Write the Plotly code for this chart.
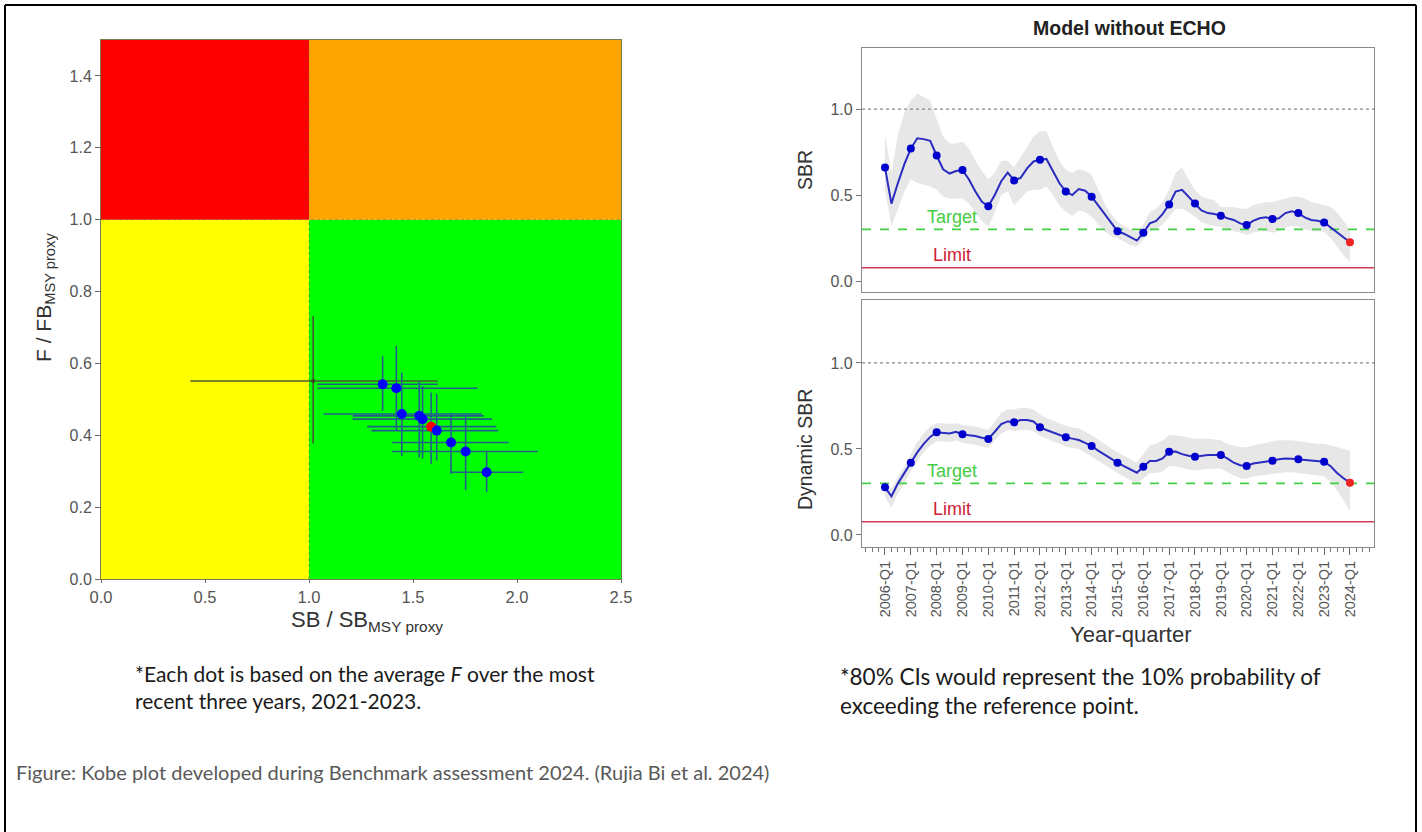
import plotly.graph_objects as go

W, H = 1422, 832

# ---------------- Kobe plot data ----------------
kobe_sb = [1.354, 1.42, 1.446, 1.53, 1.546, 1.587, 1.614, 1.683, 1.753, 1.854]
kobe_f = [0.542, 0.531, 0.459, 0.454, 0.445, 0.424, 0.413, 0.380, 0.355, 0.297]
kobe_sb_lo = [1.04, 1.04, 1.07, 1.21, 1.21, 1.28, 1.30, 1.40, 1.40, 1.68]
kobe_sb_hi = [1.62, 1.81, 1.83, 1.84, 1.88, 1.90, 1.91, 1.96, 2.10, 2.03]
kobe_f_lo = [0.468, 0.413, 0.343, 0.339, 0.335, 0.321, 0.330, 0.293, 0.247, 0.242]
kobe_f_hi = [0.620, 0.648, 0.574, 0.551, 0.537, 0.519, 0.515, 0.463, 0.460, 0.353]
kobe_colors = ["blue", "blue", "blue", "blue", "blue", "red", "blue", "blue", "blue", "blue"]

ref_sb, ref_f = [1.02], [0.551]
ref_sb_lo, ref_sb_hi = [0.43], [1.62]
ref_f_lo, ref_f_hi = [0.377], [0.731]

kobe_xticks = [0.0, 0.5, 1.0, 1.5, 2.0, 2.5]
kobe_yticks = [0.0, 0.2, 0.4, 0.6, 0.8, 1.0, 1.2, 1.4]

# ---------------- Time series data (quarterly 2006-Q1 .. 2024-Q1) ----------------
years = list(range(2006, 2025))
quarter_labels = [f"{y}-Q{q}" for y in years for q in (1, 2, 3, 4)][:73]

sbr = [0.66, 0.45, 0.57, 0.68,
       0.77, 0.83, 0.825, 0.815,
       0.73, 0.65, 0.625, 0.64,
       0.645, 0.59, 0.52, 0.46,
       0.435, 0.50, 0.58, 0.63,
       0.585, 0.60, 0.655, 0.695,
       0.705, 0.71, 0.64, 0.57,
       0.52, 0.50, 0.535, 0.525,
       0.49, 0.44, 0.39, 0.34,
       0.29, 0.275, 0.255, 0.235,
       0.28, 0.335, 0.35, 0.39,
       0.445, 0.52, 0.53, 0.49,
       0.45, 0.41, 0.395, 0.39,
       0.38, 0.365, 0.355, 0.335,
       0.325, 0.35, 0.365, 0.37,
       0.36, 0.365, 0.395, 0.405,
       0.395, 0.37, 0.355, 0.35,
       0.34, 0.31, 0.28, 0.25,
       0.225]
sbr_hi = [0.85, 0.63, 0.85, 0.98,
          1.05, 1.09, 1.07, 1.05,
          0.94, 0.84, 0.80, 0.80,
          0.81, 0.77, 0.70, 0.64,
          0.59, 0.63, 0.70, 0.70,
          0.66, 0.72, 0.78, 0.84,
          0.87, 0.87, 0.78, 0.70,
          0.645, 0.63, 0.65, 0.64,
          0.616, 0.53, 0.45, 0.39,
          0.345, 0.32, 0.30, 0.287,
          0.33, 0.40, 0.42, 0.46,
          0.53, 0.63, 0.66, 0.59,
          0.53, 0.49, 0.48, 0.47,
          0.43, 0.43, 0.43, 0.42,
          0.42, 0.44, 0.45, 0.46,
          0.46, 0.47, 0.48, 0.49,
          0.49, 0.48, 0.46, 0.45,
          0.44, 0.43, 0.40, 0.35,
          0.30]
sbr_lo = [0.53, 0.32, 0.42, 0.52,
          0.59, 0.57, 0.56, 0.55,
          0.53, 0.49, 0.48, 0.48,
          0.48, 0.45, 0.40, 0.35,
          0.316, 0.40, 0.50, 0.52,
          0.44, 0.48, 0.52, 0.53,
          0.53, 0.55, 0.50, 0.44,
          0.403, 0.38, 0.41, 0.40,
          0.374, 0.33, 0.29, 0.26,
          0.248, 0.23, 0.21, 0.20,
          0.24, 0.29, 0.30, 0.33,
          0.374, 0.42, 0.42, 0.40,
          0.374, 0.34, 0.33, 0.32,
          0.316, 0.30, 0.29, 0.28,
          0.267, 0.28, 0.29, 0.29,
          0.28, 0.29, 0.31, 0.32,
          0.32, 0.30, 0.29, 0.29,
          0.287, 0.25, 0.20, 0.15,
          0.11]

dsbr = [0.277, 0.225, 0.30, 0.36,
        0.42, 0.48, 0.53, 0.57,
        0.597, 0.595, 0.59, 0.60,
        0.585, 0.58, 0.575, 0.565,
        0.558, 0.60, 0.645, 0.66,
        0.655, 0.668, 0.668, 0.66,
        0.626, 0.61, 0.595, 0.58,
        0.568, 0.56, 0.552, 0.535,
        0.517, 0.49, 0.465, 0.44,
        0.42, 0.40, 0.38, 0.362,
        0.397, 0.43, 0.43, 0.445,
        0.484, 0.485, 0.47, 0.46,
        0.455, 0.46, 0.465, 0.465,
        0.465, 0.445, 0.42, 0.405,
        0.401, 0.415, 0.42, 0.425,
        0.432, 0.44, 0.445, 0.443,
        0.44, 0.435, 0.43, 0.428,
        0.426, 0.40, 0.36, 0.33,
        0.304]
dsbr_hi = [0.31, 0.27, 0.34, 0.40,
           0.47, 0.54, 0.59, 0.63,
           0.65, 0.65, 0.645, 0.65,
           0.64, 0.635, 0.63, 0.62,
           0.61, 0.66, 0.71, 0.73,
           0.73, 0.74, 0.74, 0.73,
           0.70, 0.68, 0.665, 0.65,
           0.635, 0.625, 0.62, 0.60,
           0.58, 0.555, 0.53, 0.50,
           0.48, 0.46, 0.44, 0.42,
           0.47, 0.52, 0.53, 0.55,
           0.58, 0.58, 0.575, 0.565,
           0.56, 0.56, 0.56, 0.555,
           0.55, 0.53, 0.52, 0.51,
           0.51, 0.52, 0.53, 0.535,
           0.545, 0.55, 0.55, 0.55,
           0.545, 0.54, 0.535, 0.53,
           0.53, 0.52, 0.51, 0.50,
           0.49]
dsbr_lo = [0.22, 0.16, 0.24, 0.30,
           0.37, 0.43, 0.48, 0.52,
           0.545, 0.545, 0.54, 0.55,
           0.535, 0.53, 0.525, 0.515,
           0.505, 0.55, 0.59, 0.61,
           0.605, 0.61, 0.61, 0.605,
           0.575, 0.56, 0.545, 0.53,
           0.515, 0.505, 0.50, 0.48,
           0.46, 0.435, 0.41, 0.385,
           0.36, 0.34, 0.32, 0.30,
           0.33, 0.36, 0.36, 0.37,
           0.40, 0.40, 0.39, 0.38,
           0.375, 0.38, 0.385, 0.385,
           0.385, 0.365, 0.345, 0.33,
           0.325, 0.34, 0.345, 0.35,
           0.355, 0.36, 0.365, 0.365,
           0.36, 0.355, 0.35, 0.345,
           0.34, 0.31, 0.26, 0.20,
           0.14]

target_level = 0.30
limit_level = 0.077
unfished_level = 1.0

# ---------------- helpers ----------------
def qnum(label):
    y, q = label.split("-Q")
    return int(y) + (int(q) - 1) / 4.0

tq = [qnum(l) for l in quarter_labels]
q1_idx = [i for i, l in enumerate(quarter_labels) if l.endswith("Q1")]

def pxx(x):
    return x / W

def pxy(y):
    return 1 - y / H

FONT = "Liberation Sans, Arial, sans-serif"
NOTE_FONT = "Lato, Open Sans, sans-serif"
XR = [2005.11, 2024.93]

fig = go.Figure()

# Kobe quadrants
quads = [
    (0, 0, 1, 1, "#ffff00"),
    (1, 0, 2.5, 1, "#00ff00"),
    (0, 1, 1, 1.5, "#ff0000"),
    (1, 1, 2.5, 1.5, "#ffa500"),
]
for x0, y0, x1, y1, c in quads:
    fig.add_shape(type="rect", xref="x", yref="y", x0=x0, y0=y0, x1=x1, y1=y1,
                  fillcolor=c, line=dict(width=0), layer="below")
fig.add_shape(type="line", xref="x", yref="y", x0=1, x1=1, y0=0, y1=1.5,
              line=dict(color="rgba(120,120,60,0.6)", width=1, dash="dot"), layer="below")
fig.add_shape(type="line", xref="x", yref="y", x0=0, x1=2.5, y0=1, y1=1,
              line=dict(color="rgba(120,120,60,0.6)", width=1, dash="dot"), layer="below")

# reference cross
fig.add_trace(go.Scatter(
    x=ref_sb, y=ref_f, mode="markers", xaxis="x", yaxis="y",
    marker=dict(size=4, color="#3a4020"),
    error_x=dict(type="data", symmetric=False,
                 array=[ref_sb_hi[0] - ref_sb[0]], arrayminus=[ref_sb[0] - ref_sb_lo[0]],
                 color="#4a5a30", thickness=1.6, width=0),
    error_y=dict(type="data", symmetric=False,
                 array=[ref_f_hi[0] - ref_f[0]], arrayminus=[ref_f[0] - ref_f_lo[0]],
                 color="#4a5a30", thickness=1.6, width=0),
    showlegend=False, hoverinfo="skip"))

# kobe points with error bars
fig.add_trace(go.Scatter(
    x=kobe_sb, y=kobe_f, mode="markers", xaxis="x", yaxis="y",
    marker=dict(size=10, color=kobe_colors),
    error_x=dict(type="data", symmetric=False,
                 array=[h - v for h, v in zip(kobe_sb_hi, kobe_sb)],
                 arrayminus=[v - l for v, l in zip(kobe_sb, kobe_sb_lo)],
                 color="#22608c", thickness=1.6, width=0),
    error_y=dict(type="data", symmetric=False,
                 array=[h - v for h, v in zip(kobe_f_hi, kobe_f)],
                 arrayminus=[v - l for v, l in zip(kobe_f, kobe_f_lo)],
                 color="#22608c", thickness=1.6, width=0),
    showlegend=False, hoverinfo="skip"))

# time series panels
panels = [
    ("x2", "y2", sbr, sbr_lo, sbr_hi),
    ("x3", "y3", dsbr, dsbr_lo, dsbr_hi),
]
for xa, ya, vals, lo, hi in panels:
    fig.add_trace(go.Scatter(
        x=tq + tq[::-1], y=hi + lo[::-1], xaxis=xa, yaxis=ya,
        fill="toself", fillcolor="rgba(215,215,215,0.6)", line=dict(width=0),
        mode="lines", showlegend=False, hoverinfo="skip"))
    fig.add_trace(go.Scatter(
        x=XR, y=[unfished_level] * 2, xaxis=xa, yaxis=ya, mode="lines",
        line=dict(color="#888888", width=1.3, dash="dot"), showlegend=False, hoverinfo="skip"))
    fig.add_trace(go.Scatter(
        x=XR, y=[target_level] * 2, xaxis=xa, yaxis=ya, mode="lines",
        line=dict(color="#44d044", width=1.6, dash="dash"), showlegend=False, hoverinfo="skip"))
    fig.add_trace(go.Scatter(
        x=XR, y=[limit_level] * 2, xaxis=xa, yaxis=ya, mode="lines",
        line=dict(color="#d23a50", width=1.6), showlegend=False, hoverinfo="skip"))
    fig.add_trace(go.Scatter(
        x=tq, y=vals, xaxis=xa, yaxis=ya, mode="lines",
        line=dict(color="#2b2bc0", width=2), showlegend=False, hoverinfo="skip"))
    dot_x = [tq[i] for i in q1_idx]
    dot_y = [vals[i] for i in q1_idx]
    dot_c = ["#0000cc"] * (len(q1_idx) - 1) + ["#ee2222"]
    fig.add_trace(go.Scatter(
        x=dot_x, y=dot_y, xaxis=xa, yaxis=ya, mode="markers",
        marker=dict(size=8, color=dot_c), showlegend=False, hoverinfo="skip"))

def tfont(size):
    return dict(family=FONT, size=size, color="#555555")

common = dict(showgrid=False, zeroline=False, showline=True, mirror=True, automargin=False)

layout = dict(
    width=W, height=H, margin=dict(l=0, r=0, t=0, b=0, autoexpand=False),
    paper_bgcolor="white", plot_bgcolor="white",
    font=dict(family=FONT),
    xaxis=dict(domain=[pxx(101), pxx(621)], range=[0, 2.5], anchor="y",
               tickvals=kobe_xticks, ticktext=[f"{v:.1f}" for v in kobe_xticks],
               ticks="outside", ticklen=3, tickcolor="#666", tickfont=tfont(16.5),
               linecolor="#7a7a50", linewidth=1, **common),
    yaxis=dict(domain=[pxy(579), pxy(40)], range=[0, 1.5], anchor="x",
               tickvals=kobe_yticks, ticktext=[f"{v:.1f}" for v in kobe_yticks],
               ticks="outside", ticklen=5, tickcolor="#666", tickfont=tfont(16),
               linecolor="#7a7a50", linewidth=1, **common),
    xaxis2=dict(domain=[pxx(862), pxx(1374)], range=XR, anchor="y2",
                showticklabels=False, ticks="",
                linecolor="#888888", linewidth=1.2, **common),
    yaxis2=dict(domain=[pxy(292), pxy(48)], range=[-0.064, 1.355], anchor="x2",
                tickvals=[0, 0.5, 1.0], ticktext=["0.0", "0.5", "1.0"],
                ticks="outside", ticklen=5, tickcolor="#777", tickfont=tfont(16),
                linecolor="#888888", linewidth=1.2, **common),
    xaxis3=dict(domain=[pxx(862), pxx(1374)], range=XR, anchor="y3",
                tickvals=[tq[i] for i in q1_idx], ticktext=[quarter_labels[i] for i in q1_idx],
                tickangle=-90, ticks="outside", ticklen=7, tickcolor="#666",
                tickfont=tfont(14.5),
                minor=dict(dtick=0.25, tick0=2006, ticks="outside", ticklen=4, tickcolor="#777"),
                linecolor="#888888", linewidth=1.2, **common),
    yaxis3=dict(domain=[pxy(547), pxy(300)], range=[-0.07, 1.366], anchor="x3",
                tickvals=[0, 0.5, 1.0], ticktext=["0.0", "0.5", "1.0"],
                ticks="outside", ticklen=5, tickcolor="#777", tickfont=tfont(16),
                linecolor="#888888", linewidth=1.2, **common),
)
fig.update_layout(**layout)

def ann(text, x, y, size, color="#222222", family=FONT, angle=0, xanchor="center",
        yanchor="middle"):
    fig.add_annotation(text=text, x=pxx(x), y=pxy(y), xref="paper", yref="paper",
                       showarrow=False,
                       font=dict(family=family, size=size, color=color),
                       textangle=angle, xanchor=xanchor, yanchor=yanchor, align="left")

ann("<b>Model without ECHO</b>", 1129, 28, 19.5)
ann("SBR", 805, 170, 19.5, color="#333333", angle=-90)
ann("Dynamic SBR", 805, 450, 19.5, color="#333333", angle=-90)
ann("Year-quarter", 1130, 634, 22, color="#333333")
ann("SB / SB<sub>MSY proxy</sub>", 367, 621, 22, color="#333333")
ann("F / FB<sub>MSY proxy</sub>", 45, 298, 21, color="#333333", angle=-90)

for xa, ya in (("x2", "y2"), ("x3", "y3")):
    fig.add_annotation(text="Target", x=2008.6, y=0.372, xref=xa, yref=ya, showarrow=False,
                       font=dict(family=FONT, size=18, color="#44cc44"))
    fig.add_annotation(text="Limit", x=2008.6, y=0.151, xref=xa, yref=ya, showarrow=False,
                       font=dict(family=FONT, size=18, color="#cc2233"))

ann("*Each dot is based on the average <i>F</i> over the most<br>recent three years, 2021-2023.",
    133, 687, 21, color="#1a1a1a", family=NOTE_FONT, xanchor="left")
ann("*80% CIs would represent the 10% probability of<br>exceeding the reference point.",
    838, 691, 22.5, color="#1a1a1a", family=NOTE_FONT, xanchor="left")
ann("Figure: Kobe plot developed during Benchmark assessment 2024. (Rujia Bi et al. 2024)",
    14, 772, 20, color="#595959", family=NOTE_FONT, xanchor="left")

# outer frame (left, top, right edges)
for x0, y0, x1, y1 in ((5, 5, 5, 832), (5, 5, 1416, 5), (1416, 5, 1416, 832)):
    fig.add_shape(type="line", xref="paper", yref="paper",
                  x0=pxx(x0), y0=pxy(y0), x1=pxx(x1), y1=pxy(y1),
                  line=dict(color="black", width=2))

fig.write_html(
    "out.html",
    config={"displayModeBar": False},
    post_script="document.body.style.margin='0';document.body.style.overflow='hidden';",
)
